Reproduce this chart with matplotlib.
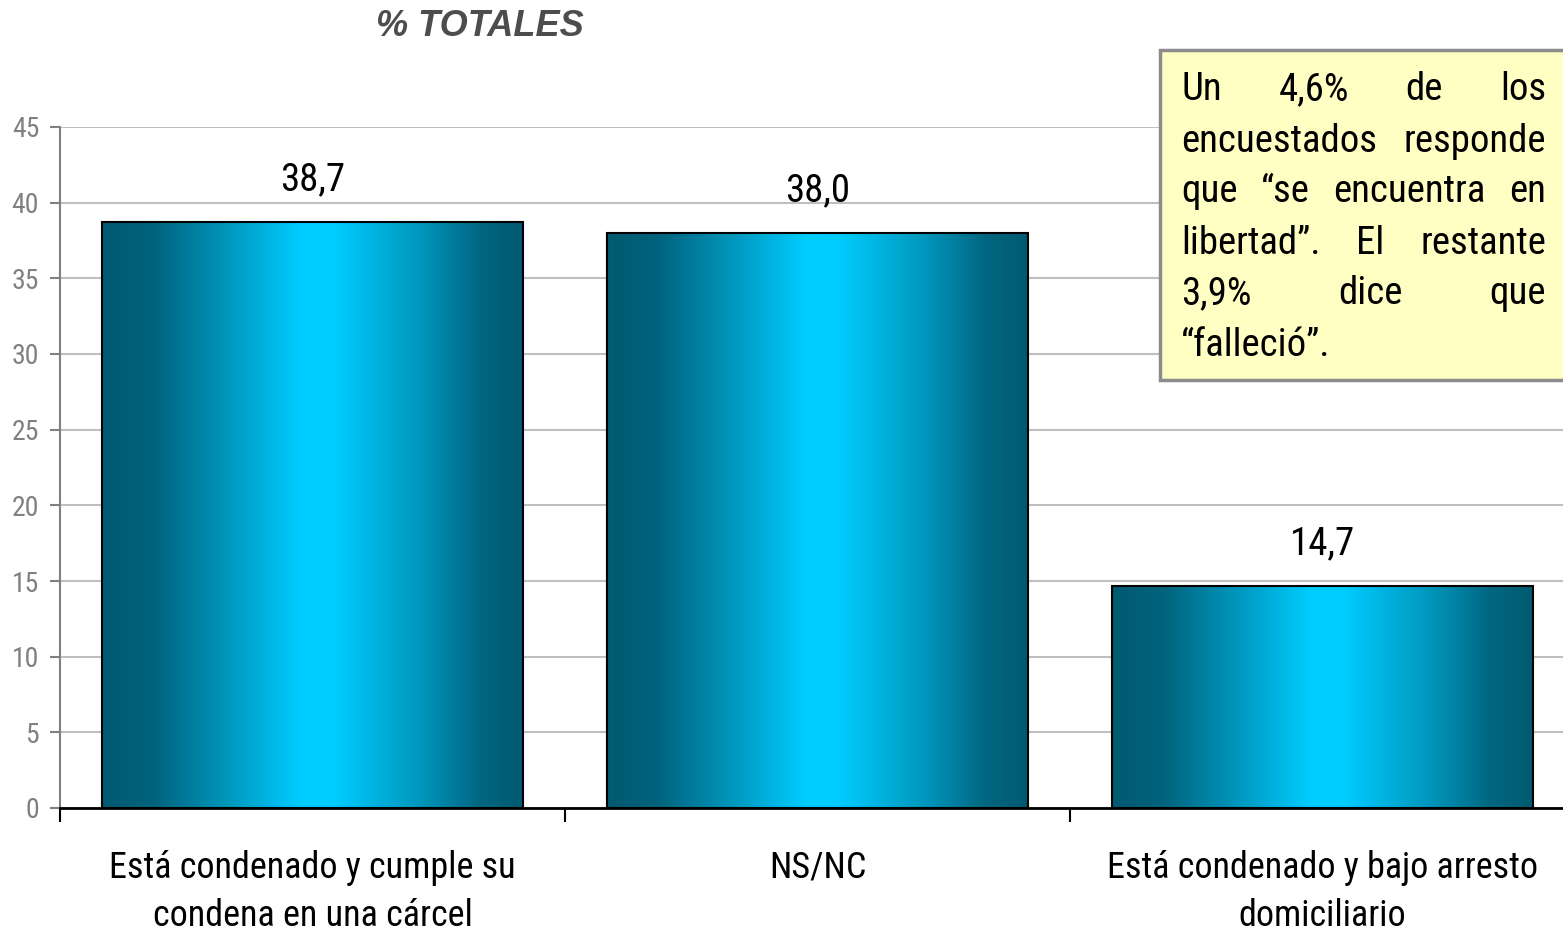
import matplotlib
matplotlib.use("Agg")
import matplotlib.pyplot as plt
import numpy as np
from matplotlib.colors import LinearSegmentedColormap
from matplotlib.patches import Rectangle

categories = ["Está condenado y cumple su\ncondena en una cárcel",
              "NS/NC",
              "Está condenado y bajo arresto\ndomiciliario"]
values = [38.7, 38.0, 14.7]
yticks = [0, 5, 10, 15, 20, 25, 30, 35, 40, 45]
title = "% TOTALES"
note_lines = ["Un 4,6% de los",
              "encuestados responde",
              "que “se encuentra en",
              "libertad”. El restante",
              "3,9% dice que",
              "“falleció”."]

# condensed face, close to the narrow font of the original
plt.rcParams["font.family"] = ["Roboto Condensed", "DejaVu Sans"]

W, H = 1563, 936
fig = plt.figure(figsize=(W / 100, H / 100), dpi=100)
ax = fig.add_axes([60 / W, 128 / H, 1515 / W, 681 / H])

x = np.arange(len(categories))
bars = ax.bar(x, values, width=0.834, facecolor="none", edgecolor="black",
              linewidth=1.5, zorder=3)

# horizontal gradient inside each bar
cmap = LinearSegmentedColormap.from_list(
    "teal", [(0, "#005A70"), (0.12, "#00637D"), (0.3, "#0098BE"),
             (0.47, "#00CCFF"), (0.55, "#00CCFF"), (0.75, "#0098BE"),
             (0.9, "#006680"), (1, "#005A70")])
grad = np.linspace(0, 1, 256).reshape(1, -1)
for b in bars:
    ax.imshow(grad, cmap=cmap, aspect="auto", zorder=2,
              extent=[b.get_x(), b.get_x() + b.get_width(), 0, b.get_height()])

ax.bar_label(bars, labels=[f"{v:.1f}".replace(".", ",") for v in values],
             padding=17, fontsize=28)

ax.set_xlim(-0.5, 2.5)
ax.set_ylim(0, 45)
ax.set_yticks(yticks)
ax.yaxis.grid(True, color="#BFBFBF", linewidth=1.5, zorder=0)
ax.set_axisbelow(True)
ax.tick_params(axis="y", colors="#808080", labelsize=20, length=7, width=1.5,
               labelcolor="#808080", pad=8)
ax.set_xticks(x)
ax.set_xticklabels(categories, fontsize=26, linespacing=1.45)
ax.set_xticks([-0.5, 0.5, 1.5, 2.5], minor=True)
ax.tick_params(axis="x", which="major", length=0, pad=30)
ax.tick_params(axis="x", which="minor", length=10, width=1.5, color="black")

for s in ["top", "right"]:
    ax.spines[s].set_visible(False)
ax.spines["left"].set_color("#808080")
ax.spines["left"].set_linewidth(1.5)
ax.spines["bottom"].set_linewidth(2)

fig.text(480 / W, 1 - 26 / H, title, ha="center", va="center", fontsize=26,
         fontweight="bold", fontstyle="italic", color="#4D4D4D",
         family=["Liberation Sans", "DejaVu Sans"])

# note box with justified text
fig.patches.append(Rectangle((1160 / W, 1 - 380 / H), 420 / W, 330 / H,
                             transform=fig.transFigure, facecolor="#FFFFC4",
                             edgecolor="#8C8C8C", linewidth=2.5, zorder=5))
renderer = fig.canvas.get_renderer()
x0, x1 = 1181, 1546
fs = 28
for i, line in enumerate(note_lines):
    y = 1 - (90 + 51 * i) / H
    words = line.split()
    if i == len(note_lines) - 1:
        fig.text(x0 / W, y, line, fontsize=fs, va="center", zorder=6)
        continue
    widths = []
    for w in words:
        t = fig.text(0, 0, w, fontsize=fs)
        widths.append(t.get_window_extent(renderer).width)
        t.remove()
    gap = (x1 - x0 - sum(widths)) / (len(words) - 1)
    pos = x0
    for w, wd in zip(words, widths):
        fig.text(pos / W, y, w, fontsize=fs, va="center", zorder=6)
        pos += wd + gap

fig.savefig("out.png", dpi=100)
